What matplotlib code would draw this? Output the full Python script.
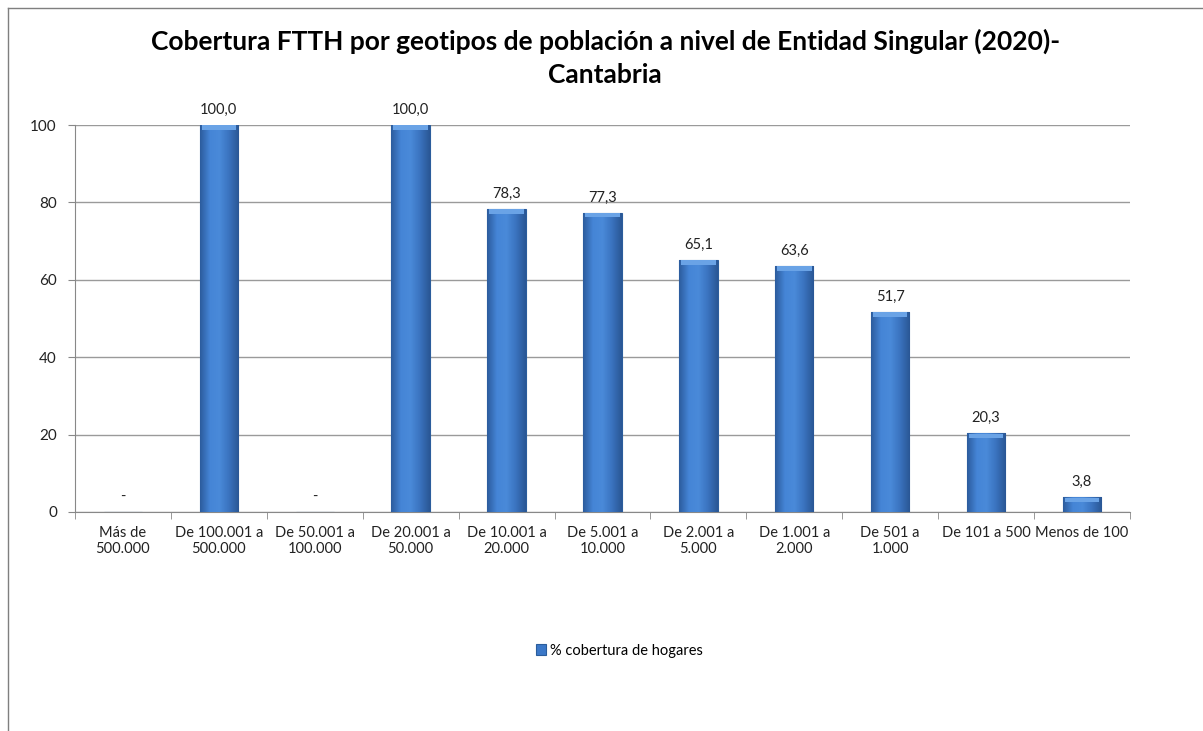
import numpy as np
import matplotlib.pyplot as plt
from matplotlib.lines import Line2D
from matplotlib.colors import LinearSegmentedColormap

plt.rcParams['font.family'] = ['Lato', 'DejaVu Sans']

categories = ["Más de\n500.000", "De 100.001 a\n500.000", "De 50.001 a\n100.000",
              "De 20.001 a\n50.000", "De 10.001 a\n20.000", "De 5.001 a\n10.000",
              "De 2.001 a\n5.000", "De 1.001 a\n2.000", "De 501 a\n1.000",
              "De 101 a 500", "Menos de 100"]
values = [0, 100.0, 0, 100.0, 78.3, 77.3, 65.1, 63.6, 51.7, 20.3, 3.8]
labels = ["-", "100,0", "-", "100,0", "78,3", "77,3", "65,1", "63,6", "51,7", "20,3", "3,8"]
series_name = "% cobertura de hogares"

fig = plt.figure(figsize=(12.03, 7.31), dpi=100)
ax = fig.add_axes([0.0623, 0.2996, 0.877, 0.5294])

x = np.arange(len(categories))
bar_w = 0.4
bars = ax.bar(x, values, width=bar_w, color="#3b78c8", edgecolor="#2b5d9c",
              linewidth=0.8, zorder=3, label=series_name)

# horizontal shading on each bar (darker edges, lighter centre)
cmap = LinearSegmentedColormap.from_list("b", ["#2c5c9e", "#4585d6", "#4a8ad9", "#3a73bf", "#2a5795"])
grad = np.linspace(0, 1, 64).reshape(1, -1)
for b in bars:
    h = b.get_height()
    if h <= 0:
        continue
    x0 = b.get_x()
    im = ax.imshow(grad, cmap=cmap, aspect='auto', extent=[x0, x0 + bar_w, 0, h], zorder=3.5)
    im.set_clip_path(b)
    # light bevel at the top
    ax.fill_between([x0 + 0.02, x0 + bar_w - 0.02], h - 1.2, h - 0.1, color="#6aa3e6", zorder=4, lw=0)

for xi, v, lab in zip(x, values, labels):
    ax.annotate(lab, (xi, v), xytext=(0, 6), textcoords="offset points",
                ha="center", va="bottom", fontsize=10.5, color="#222222")

ax.set_xlim(-0.5, len(categories) - 0.5)
ax.set_ylim(0, 100)
ax.set_yticks([0, 20, 40, 60, 80, 100])
ax.yaxis.grid(True, color="#9a9a9a", linewidth=1, zorder=0)
ax.set_axisbelow(True)
ax.set_xticks(x)
ax.set_xticklabels(categories, fontsize=10.5, color="#222222")
ax.set_xticks(np.arange(-0.5, len(categories)), minor=True)
ax.tick_params(axis="x", which="major", length=0, pad=10)
ax.tick_params(axis="x", which="minor", length=5, color="#888888", direction="out")
ax.tick_params(axis="y", length=5, color="#888888", labelsize=11, labelcolor="#222222", pad=8)
for s in ["top", "right"]:
    ax.spines[s].set_visible(False)
ax.spines["left"].set_color("#888888")
ax.spines["bottom"].set_color("#888888")

fig.text(0.503, 0.943, "Cobertura FTTH por geotipos de población a nivel de Entidad Singular (2020)-",
         ha="center", va="center", fontsize=19, fontweight="bold")
fig.text(0.503, 0.897, "Cantabria", ha="center", va="center", fontsize=19, fontweight="bold")

ax.legend(loc="center", bbox_to_anchor=(0.515, 0.11), bbox_transform=fig.transFigure,
          frameon=False, fontsize=10.5, handlelength=0.7, handleheight=0.7, handletextpad=0.3)

# outer chart frame (left and top edges visible)
fig.add_artist(Line2D([0.0066, 0.0066], [0, 0.989], color="#7f7f7f", lw=1, transform=fig.transFigure))
fig.add_artist(Line2D([0.0066, 1.0], [0.989, 0.989], color="#7f7f7f", lw=1, transform=fig.transFigure))

fig.savefig("out.png", dpi=100)
